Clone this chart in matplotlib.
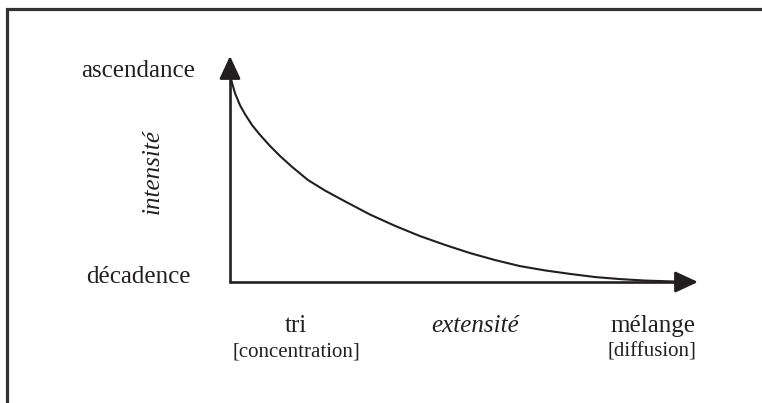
import matplotlib
matplotlib.use("Agg")
import matplotlib.pyplot as plt

# ---- data (curve, x: extensité 0..1, y: intensité 0..1) ----
curve_x = [0.001, 0.004, 0.011, 0.022, 0.033, 0.049, 0.067, 0.089, 0.111, 0.138,
           0.173, 0.211, 0.256, 0.311, 0.367, 0.422, 0.478, 0.533, 0.589, 0.644,
           0.700, 0.756, 0.811, 0.867, 0.922, 1.000]
curve_y = [1.000, 0.966, 0.913, 0.855, 0.812, 0.758, 0.710, 0.657, 0.609, 0.556,
           0.493, 0.442, 0.389, 0.326, 0.271, 0.222, 0.179, 0.140, 0.106, 0.077,
           0.056, 0.039, 0.024, 0.014, 0.007, 0.0015]

y_labels = ["ascendance", "décadence"]
y_title = "intensité"
x_labels = ["tri", "extensité", "mélange"]
x_sublabels = ["[concentration]", "[diffusion]"]

# ---- layout ----
W, H = 762, 403
OX, OY = 230, 282          # origin pixel
SX, SY = 450, 207          # pixels per data unit

def px(x, y):
    return (x - OX) / SX, (OY - y) / SY

fig = plt.figure(figsize=(W / 100, H / 100), dpi=100)
ax = fig.add_axes([0, 0, 1, 1])
ax.set_xlim((0 - OX) / SX, (W - OX) / SX)
ax.set_ylim((OY - H) / SY, (OY - 0) / SY)
ax.axis("off")

ink = "#231f20"
serif = ["Liberation Serif", "DejaVu Serif"]

# frame (top and left)
ax.plot([7 / W, 7 / W, 1.0], [0, 1 - 9 / H, 1 - 9 / H], transform=ax.transAxes,
        color="#333333", lw=2.3, solid_capstyle="butt", solid_joinstyle="miter")

# axes (L shape) and arrowheads
x_end = px(698, OY)
y_end = px(OX, 56)
ax.plot([0, 0, x_end[0] - 0.03], [y_end[1] - 0.06, 0, 0], color=ink, lw=1.9,
        solid_joinstyle="miter", solid_capstyle="butt")
style = "-|>,head_length=1.4,head_width=0.65"
for end, start in [(x_end, (x_end[0] - 0.05, 0)), (y_end, (0, y_end[1] - 0.1))]:
    ax.annotate("", xy=end, xytext=start,
                arrowprops=dict(arrowstyle=style, color=ink, lw=1.9,
                                shrinkA=0, shrinkB=0, mutation_scale=10))

# curve
ax.plot(curve_x, curve_y, color=ink, lw=1.5, solid_capstyle="round",
        solid_joinstyle="round")

# y labels
ax.text(*px(195, 77), y_labels[0], ha="right", va="baseline",
        fontsize=18, family=serif, color=ink)
ax.text(*px(191, 283), y_labels[1], ha="right", va="baseline",
        fontsize=18, family=serif, color=ink)
ax.text(*px(153, 171), y_title, ha="center", va="center", rotation=90,
        fontsize=18, family=serif, style="italic", color=ink)

# x labels
for lab, cx, it in zip(x_labels, [296, 475, 653], [False, True, False]):
    ax.text(*px(cx, 332), lab, ha="center", va="baseline", fontsize=18,
            family=serif, style="italic" if it else "normal", color=ink)
for lab, cx in zip(x_sublabels, [296, 652]):
    ax.text(*px(cx, 357), lab, ha="center", va="baseline", fontsize=15,
            family=serif, color=ink)

fig.savefig("out.png", dpi=100)
